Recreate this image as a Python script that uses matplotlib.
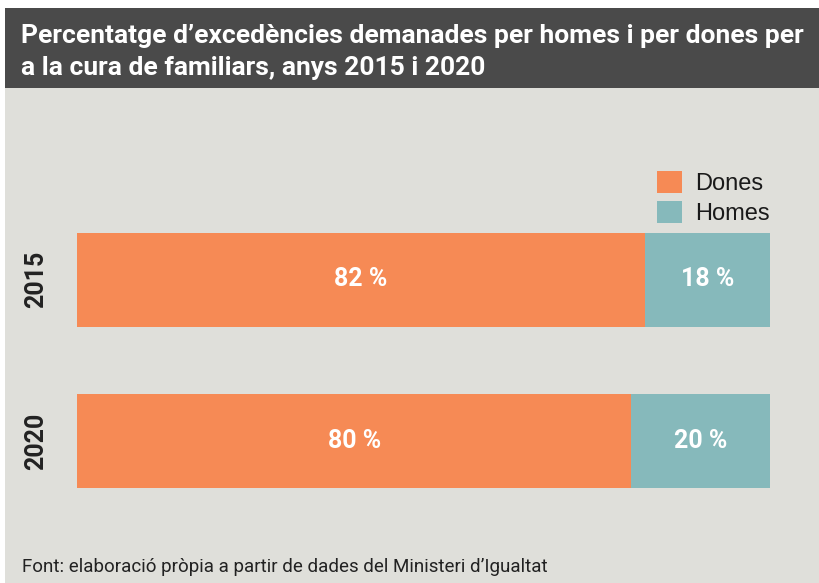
import matplotlib
matplotlib.use("Agg")
import matplotlib.pyplot as plt
from matplotlib.patches import Rectangle

years = ["2015", "2020"]
dones = [82, 80]
homes = [18, 20]
series_names = ["Dones", "Homes"]
title = "Percentatge d’excedències demanades per homes i per dones per\na la cura de familiars, anys 2015 i 2020"
source = "Font: elaboració pròpia a partir de dades del Ministeri d’Igualtat"

ORANGE = "#F68A55"
TEAL = "#86B9BB"
BG = "#DFDFDA"
HEAD = "#4A4A4A"

W, H = 819, 583
fig = plt.figure(figsize=(W / 100, H / 100), dpi=100)
fig.patch.set_facecolor("white")

def fx(px):
    return px / W

def fy(py):
    return 1 - py / H

# background panels
fig.patches.append(Rectangle((fx(5), fy(583)), fx(814), (583 - 88) / H,
                             transform=fig.transFigure, facecolor=BG, edgecolor="none", zorder=-5))
fig.patches.append(Rectangle((fx(5), fy(88)), fx(814), (88 - 8) / H,
                             transform=fig.transFigure, facecolor=HEAD, edgecolor="none", zorder=-5))

fig.text(fx(21), fy(52), title, color="white", fontsize=19, fontweight="bold",
         family="Roboto", va="center", ha="left", linespacing=1.45)

# axes: x 77..770 px ; y centers at 279.5 (2015) and 441 (2020)
top_px, bot_px = 200, 520
ax = fig.add_axes([fx(77), fy(bot_px), fx(770 - 77), (bot_px - top_px) / H])
ax.set_zorder(3)
ax.set_facecolor("none")
c0, c1 = 279.5, 441.0
scale = c1 - c0  # pixels per unit
ylim_top = -(c0 - top_px) / scale
ylim_bot = (bot_px - c0) / scale
ax.set_ylim(ylim_bot, ylim_top)
ax.set_xlim(0, 100)
for s in ax.spines.values():
    s.set_visible(False)
ax.set_xticks([])
ax.set_yticks([])

ypos = list(range(len(years)))
bh = 94 / scale
b1 = ax.barh(ypos, dones, height=bh, color=ORANGE, label=series_names[0])
b2 = ax.barh(ypos, homes, left=dones, height=bh, color=TEAL, label=series_names[1])

for i in ypos:
    ax.text(dones[i] / 2, i, f"{dones[i]} %", color="white", fontsize=18, fontweight="bold",
            family="Roboto", ha="center", va="center")
    ax.text(dones[i] + homes[i] / 2, i, f"{homes[i]} %", color="white", fontsize=18,
            fontweight="bold", family="Roboto", ha="center", va="center")
    fig.text(fx(36), fy(c0 + i * scale), years[i], rotation=90, color="#222222",
             fontsize=18, fontweight="bold", family="Roboto", ha="center", va="center")

leg = fig.legend(handles=[b1, b2], labels=series_names, loc="upper left",
                 bbox_to_anchor=(fx(657), fy(171)), frameon=False,
                 handlelength=1.05, handleheight=1.05, handletextpad=0.55,
                 labelspacing=0.25, borderpad=0.0, borderaxespad=0.0,
                 prop={"family": "Liberation Sans", "size": 17})
for t in leg.get_texts():
    t.set_color("#1a1a1a")

fig.text(fx(22), fy(567), source, color="#222222", fontsize=13.5, family="Roboto",
         ha="left", va="center")

fig.savefig("out.png", dpi=100)
